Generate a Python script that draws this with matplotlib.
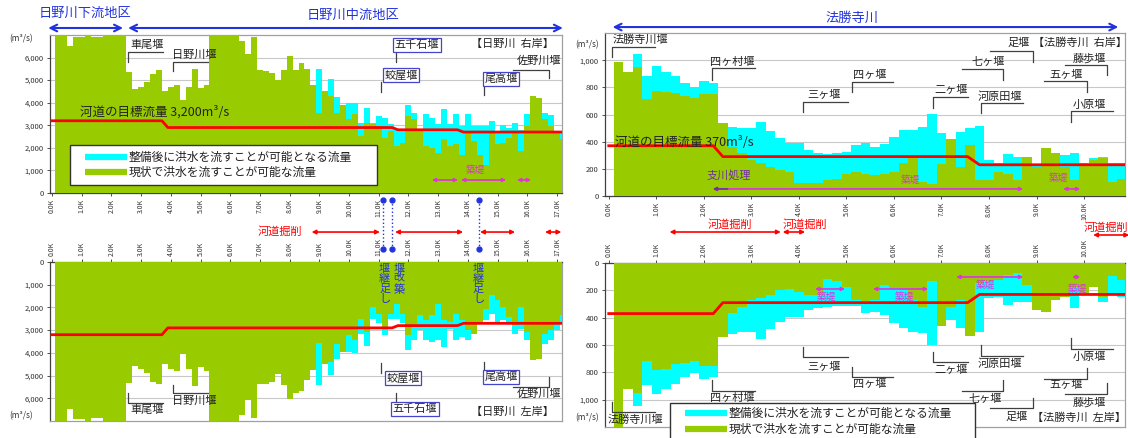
import numpy as np
import matplotlib.pyplot as plt
from matplotlib.patches import Rectangle

plt.rcParams['font.family'] = ['Noto Sans CJK JP', 'DejaVu Sans']

GREEN = '#99CC00'
CYAN = '#00FFFF'
RED = '#FF0000'
BLUE = '#2233DD'
PINK = '#E030E0'
GRID = '#C8C8C8'

# ---- 日野川 (0.2km pitch) ----
hino_km = np.round(np.arange(0.2, 17.21, 0.2), 1)

hino_right_now = [
    7000, 7000, 6500, 6930, 6930, 7000, 6900, 6900, 7000, 7000, 7000, 7000,
    5360, 4600, 4700, 4900, 5260, 5450, 4500, 4700, 4800, 4100, 4700, 5500,
    4650, 4800, 7000, 7000, 7000, 7000, 7000, 6750, 6150, 6900, 5450, 5400,
    5300, 5000, 5450, 6070, 5450, 5780, 5480, 4770, 3550, 4520, 4300, 3550,
    3880, 3260, 3480, 2520, 3100, 3040, 2960, 2440, 2740, 2070, 2220, 3400,
    3260, 2740, 2070, 2000, 1780, 2370, 2070, 2150, 1700, 2740, 2300, 1700,
    1260, 2670, 2150, 2220, 2440, 2740, 1850, 2960, 4300, 4220, 3260, 2960,
    2670, 2370]
hino_right_plan = [
    7000, 7000, 6500, 6930, 6930, 7000, 6900, 6900, 7000, 7000, 7000, 7000,
    5360, 4600, 4700, 4900, 5260, 5450, 4500, 4700, 4800, 4100, 4700, 5500,
    4650, 4800, 7000, 7000, 7000, 7000, 7000, 6750, 6150, 6900, 5450, 5400,
    5300, 5000, 5450, 6070, 5450, 5780, 5480, 4770, 5480, 4520, 5030, 4270,
    3880, 4000, 4000, 3100, 3780, 3100, 3400, 3330, 3040, 2810, 2810, 3880,
    3550, 2740, 3480, 3330, 3040, 3700, 3040, 3480, 2960, 3480, 2960, 2960,
    2960, 3190, 2670, 2990, 2890, 3100, 2810, 3480, 4300, 4220, 3550, 3440,
    2670, 2670]
hino_left_now = [
    7000, 7000, 6490, 6900, 6900, 7000, 6850, 6850, 7000, 7000, 7000, 7000,
    5310, 4580, 4730, 4900, 5270, 5370, 4470, 4690, 4790, 4060, 4700, 5460,
    4610, 4790, 7000, 7000, 7000, 7000, 7000, 6730, 6080, 6880, 5370, 5370,
    5270, 4930, 5420, 6050, 5750, 5700, 5200, 4760, 3560, 4470, 4400, 3590,
    3950, 3220, 3440, 2490, 3070, 2000, 2270, 2860, 2270, 1860, 2270, 3220,
    2860, 2340, 2560, 2340, 1830, 2560, 2640, 2270, 2560, 3000, 3150, 2640,
    2050, 1460, 1680, 1980, 2420, 2780, 1980, 3070, 4320, 4250, 3150, 3000,
    2710, 2340]
hino_left_plan = [
    7000, 7000, 6490, 6900, 6900, 7000, 6850, 6850, 7000, 7000, 7000, 7000,
    5310, 4580, 4730, 4900, 5270, 5370, 4470, 4690, 4790, 4060, 4700, 5460,
    4610, 4790, 7000, 7000, 7000, 7000, 7000, 6730, 6080, 6880, 5370, 5370,
    5270, 4930, 5420, 6050, 5750, 5700, 5200, 4760, 5420, 4470, 4980, 4250,
    3950, 3950, 4000, 3150, 3700, 2490, 2700, 3220, 2490, 2490, 2700, 3880,
    3440, 3000, 3440, 3510, 3440, 3730, 2930, 3440, 3290, 3440, 3150, 2700,
    2560, 2270, 2640, 2560, 2700, 3150, 2930, 3440, 4320, 4250, 3590, 3440,
    3000, 2640]
hino_target_km = [0.0, 3.7, 3.9, 11.45, 11.65, 13.65, 13.85, 17.3]
hino_target = [3200, 3200, 2900, 2900, 2800, 2800, 2700, 2700]

# ---- 法勝寺川 (0.2km pitch) ----
hosho_km = np.round(np.arange(0.2, 10.81, 0.2), 1)

hosho_right_now = [
    985, 911, 950, 716, 775, 768, 758, 733, 718, 753, 753, 536, 363, 314,
    264, 240, 215, 190, 178, 96, 96, 96, 116, 128, 165, 178, 165, 153, 165,
    178, 240, 277, 104, 91, 235, 417, 215, 375, 116, 116, 178, 165, 116, 289,
    215, 351, 314, 215, 116, 240, 264, 277, 104, 128]
hosho_right_plan = [
    985, 911, 1047, 881, 955, 916, 881, 832, 802, 844, 832, 536, 511, 499,
    499, 548, 481, 425, 388, 393, 338, 318, 309, 314, 326, 375, 393, 363, 383,
    437, 486, 486, 506, 602, 462, 417, 474, 499, 516, 264, 240, 309, 289, 289,
    227, 351, 314, 301, 319, 240, 277, 284, 240, 240]
hosho_left_now = [
    1200, 921, 953, 720, 781, 774, 737, 732, 720, 757, 757, 541, 369, 319,
    270, 258, 233, 197, 192, 209, 233, 233, 118, 135, 177, 270, 295, 270, 160,
    184, 197, 270, 319, 135, 462, 319, 270, 536, 147, 135, 123, 86, 74, 160,
    344, 356, 270, 250, 172, 221, 172, 246, 98, 123]
hosho_left_plan = [
    1200, 921, 1044, 889, 958, 921, 885, 835, 806, 848, 835, 541, 516, 504,
    504, 553, 486, 430, 393, 393, 344, 332, 319, 314, 314, 314, 369, 356, 381,
    442, 479, 504, 511, 602, 462, 418, 479, 536, 504, 258, 246, 307, 283, 283,
    344, 356, 270, 250, 332, 221, 172, 283, 221, 246]
hosho_target_km = [0.0, 2.2, 2.4, 7.55, 7.8, 10.9]
hosho_target = [370, 370, 290, 290, 230, 230]

LEGEND_PLAN = '整備後に洪水を流すことが可能となる流量'
LEGEND_NOW = '現状で洪水を流すことが可能な流量'


def edges(km):
    return np.append(km - 0.1, km[-1] + 0.1)


def draw_panel(ax, km, now, plan, tx, ty, ymax, step, xmax_k, xlim, top):
    e = edges(km)
    ax.stairs(plan, e, baseline=0, fill=True, color=CYAN, lw=0, zorder=2)
    ax.stairs(now, e, baseline=0, fill=True, color=GREEN, lw=0, zorder=3)
    ax.plot(tx, ty, color=RED, lw=2.0, zorder=4)
    ax.set_xlim(*xlim)
    ax.set_ylim(0, ymax)
    yt = np.arange(0, ymax, step)
    ax.set_yticks(yt)
    ax.set_yticklabels([f'{v:,}' for v in yt], fontsize=5.5)
    xt = np.arange(0, xmax_k + 1)
    ax.set_xticks(xt)
    ax.set_xticklabels([f'{k}.0K' for k in xt], rotation=90, fontsize=5)
    ax.grid(axis='y', color=GRID, lw=0.8)
    ax.set_axisbelow(True)
    ax.tick_params(length=2.5, width=0.6, pad=2, colors='#333333')
    for s in ax.spines.values():
        s.set_color('#A0A0A0')
        s.set_linewidth(0.9)
    ax.spines['left'].set_color('#404040')
    if top:
        ax.spines['bottom'].set_color('#404040')
    else:
        ax.invert_yaxis()
        ax.xaxis.tick_top()
        ax.spines['top'].set_color('#404040')


def weir(ax, label, tx, ty, lx, ly, boxed=False, ha='left'):
    ax.plot(lx, ly, color='#404040', lw=0.9, clip_on=False, zorder=5)
    kw = dict(fontsize=8, ha=ha, va='center', color='#222222', zorder=6, clip_on=False)
    if boxed:
        kw['bbox'] = dict(boxstyle='square,pad=0.15', fc='white', ec='#4444CC', lw=0.9)
    ax.text(tx, ty, label, **kw)


def arrow(ax, x0, x1, y, color, lw=1.2, scale=6, style='<|-|>'):
    ax.annotate('', xy=(x1, y), xytext=(x0, y), annotation_clip=False,
                arrowprops=dict(arrowstyle=style, color=color, lw=lw,
                                mutation_scale=scale, shrinkA=0, shrinkB=0))


def legend_box(ax, x0, x1, y0, y1, px0, px1, ya, yb, tx):
    ax.add_patch(Rectangle((x0, y0), x1 - x0, y1 - y0, transform=ax.transAxes,
                           fc='white', ec='#333333', lw=1.0, zorder=7, clip_on=False))
    for y, c, t in [(ya, CYAN, LEGEND_PLAN), (yb, GREEN, LEGEND_NOW)]:
        ax.plot([px0, px1], [y, y], color=c, lw=4.5, solid_capstyle='butt',
                transform=ax.transAxes, zorder=8, clip_on=False)
        ax.text(tx, y, t, transform=ax.transAxes, fontsize=8.5, va='center',
                ha='left', color='#222222', zorder=8, clip_on=False)


fig = plt.figure(figsize=(11.28, 4.38), dpi=100)
ax_tl = fig.add_axes([0.0443, 0.5594, 0.4539, 0.3607])
ax_bl = fig.add_axes([0.0443, 0.0388, 0.4539, 0.3630])
ax_tr = fig.add_axes([0.5363, 0.5525, 0.4610, 0.3721])
ax_br = fig.add_axes([0.5363, 0.0251, 0.4610, 0.3744])

draw_panel(ax_tl, hino_km, hino_right_now, hino_right_plan, hino_target_km, hino_target,
           7000, 1000, 17, (-0.07, 17.17), True)
draw_panel(ax_bl, hino_km, hino_left_now, hino_left_plan, hino_target_km, hino_target,
           7000, 1000, 17, (-0.07, 17.17), False)
draw_panel(ax_tr, hosho_km, hosho_right_now, hosho_right_plan, hosho_target_km, hosho_target,
           1200, 200, 10, (-0.08, 10.86), True)
draw_panel(ax_br, hosho_km, hosho_left_now, hosho_left_plan, hosho_target_km, hosho_target,
           1200, 200, 10, (-0.08, 10.86), False)

# units
for x, y in [(0.008, 0.905), (0.51, 0.893), (0.008, 0.045), (0.51, 0.04)]:
    fig.text(x, y, '(m³/s)', fontsize=6, color='#333333')

# ---- 日野川 右岸 ----
ax = ax_tl
ax.text(1.11, 7974, '日野川下流地区', color=BLUE, fontsize=9.5, ha='center', va='center', clip_on=False)
ax.text(10.13, 7885, '日野川中流地区', color=BLUE, fontsize=9.5, ha='center', va='center', clip_on=False)
arrow(ax, -0.13, 2.39, 7310, BLUE, lw=1.5, scale=12, style='<->')
arrow(ax, 2.56, 17.2, 7310, BLUE, lw=1.5, scale=12, style='<->')
weir(ax, '車尾堰', 2.63, 6556, [2.56, 2.56, 3.74], [5803, 6246, 6246])
weir(ax, '日野川堰', 4.04, 6113, [4.07, 4.07, 5.25], [5405, 5803, 5803])
weir(ax, '五千石堰', 12.29, 6556, [11.57, 11.57], [5803, 6202], boxed=True, ha='center')
weir(ax, '蛟屋堰', 11.75, 5227, [11.08, 11.08], [4474, 4917], boxed=True, ha='center')
weir(ax, '尾高堰', 15.12, 5050, [14.55, 14.55], [4341, 4740], boxed=True, ha='center')
weir(ax, '佐野川堰', 15.66, 5850, [15.52, 16.73, 16.73], [5449, 5449, 5094])
ax.text(15.49, 6600, '【日野川  右岸】', fontsize=8, ha='center', va='center', color='#222222')
ax.text(0.94, 3588, '河道の目標流量 3,200m³/s', fontsize=9, ha='left', va='center',
        color='#222222', zorder=6)
ax.text(14.24, 1019, '築堤', fontsize=7, color=PINK, ha='center', va='center', zorder=6)
for a, b in [(12.79, 13.67), (13.77, 15.29), (15.66, 16.13)]:
    arrow(ax, a, b, 576, PINK, lw=1.2, scale=5)
legend_box(ax, 0.039, 0.639, 0.051, 0.304, 0.068, 0.150, 0.228, 0.133, 0.154)

# ---- 日野川 左岸 ----
ax = ax_bl
weir(ax, '車尾堰', 2.63, 6516, [2.56, 2.56, 3.74], [5768, 6208, 6208])
weir(ax, '日野川堰', 4.04, 6120, [4.07, 4.07, 5.25], [5416, 5768, 5768])
weir(ax, '蛟屋堰', 11.82, 5107, [11.08, 11.08], [4447, 4887], boxed=True, ha='center')
weir(ax, '五千石堰', 12.22, 6472, [11.57, 11.57], [5768, 6164], boxed=True, ha='center')
weir(ax, '尾高堰', 15.12, 5063, [14.55, 14.55], [4403, 4755], boxed=True, ha='center')
weir(ax, '佐野川堰', 15.66, 5812, [16.73, 16.73, 15.52], [5063, 5504, 5504])
ax.text(15.49, 6604, '【日野川  左岸】', fontsize=8, ha='center', va='center', color='#222222')

# 河道掘削 / 堰改築 between the two 日野川 panels
ax.text(7.68, -1320, '河道掘削', color=RED, fontsize=8, ha='center', va='center', clip_on=False)
for a, b in [(8.74, 11.04), (11.55, 13.84), (14.41, 15.59), (16.6, 17.15)]:
    arrow(ax, a, b, -1320, RED, lw=1.2, scale=6)
for x in [11.13, 11.44, 14.38]:
    ax.plot([x, x], [-2730, -572], ':', color=BLUE, lw=1.0, clip_on=False, zorder=6)
    ax.plot([x, x], [-2730, -572], 'o', color=BLUE, ms=3.5, clip_on=False, zorder=6)
for x, t in [(11.2, '堰継足し'), (11.68, '堰改築'), (14.36, '堰継足し')]:
    ax.text(x, 80, '\n'.join(t), color=BLUE, fontsize=8, ha='center', va='top',
            linespacing=1.0, zorder=6)

# ---- 法勝寺川 右岸 ----
ax = ax_tr
ax.text(5.12, 1310, '法勝寺川', color=BLUE, fontsize=9.5, ha='center', va='center', clip_on=False)
arrow(ax, 0.08, 10.72, 1244, BLUE, lw=1.5, scale=12, style='<->')
weir(ax, '法勝寺川堰', 0.08, 1148, [0.06, 0.06, 0.97], [1023, 1097, 1097])
weir(ax, '四ヶ村堰', 2.13, 986, [2.18, 2.18, 3.07], [854, 942, 942])
weir(ax, '三ヶ堰', 4.17, 743, [4.08, 4.08, 5.03], [618, 692, 692])
weir(ax, '四ヶ堰', 5.14, 890, [5.12, 5.12, 5.98], [765, 839, 839])
weir(ax, '二ヶ堰', 6.86, 780, [6.82, 6.82, 7.56], [648, 729, 729])
weir(ax, '河原田堰', 7.77, 729, [7.83, 7.83, 8.72], [611, 684, 684])
weir(ax, '七ヶ堰', 7.64, 986, [7.43, 8.29, 8.29], [935, 935, 854])
weir(ax, '足堰', 8.38, 1126, [8.02, 8.93, 8.93], [1067, 1067, 986])
weir(ax, '藤歩堰', 9.75, 1016, [9.6, 10.48, 10.48], [964, 964, 890])
weir(ax, '五ヶ堰', 9.28, 890, [9.16, 10.06, 10.06], [846, 846, 765])
weir(ax, '小原堰', 9.77, 670, [9.73, 9.73, 10.61], [545, 626, 626])
ax.text(8.93, 1126, '【法勝寺川  右岸】', fontsize=8, ha='left', va='center', color='#222222')
ax.text(0.13, 397, '河道の目標流量 370m³/s', fontsize=9, ha='left', va='center',
        color='#222222', zorder=6)
ax.text(2.06, 155, '支川処理', fontsize=8, color='#7030A0', ha='left', va='center', zorder=6)
arrow(ax, 2.19, 8.72, 52, PINK, lw=1.2, scale=5)
arrow(ax, 2.19, 2.5, 52, '#7030A0', lw=1.2, scale=5, style='<|-')
ax.text(6.34, 118, '築堤', fontsize=7, color=PINK, ha='center', va='center', zorder=6)
ax.text(9.47, 132, '築堤', fontsize=7, color=PINK, ha='center', va='center', zorder=6)
arrow(ax, 9.56, 9.92, 52, PINK, lw=1.2, scale=5)

# ---- 法勝寺川 左岸 ----
ax = ax_br
for tx, ty, a, b, ay in [(4.59, 249, 4.34, 4.97, 190), (6.23, 249, 5.56, 6.72, 190),
                         (7.92, 161, 7.31, 8.72, 102), (9.87, 190, 9.75, 9.92, 102)]:
    ax.text(tx, ty, '築堤', fontsize=7, color=PINK, ha='center', va='center', zorder=6)
    arrow(ax, a, b, ay, PINK, lw=1.2, scale=5)
weir(ax, '三ヶ堰', 4.17, 761, [4.08, 4.08, 5.03], [615, 688, 688])
weir(ax, '四ヶ村堰', 2.13, 988, [2.18, 2.18, 3.07], [856, 937, 937])
weir(ax, '法勝寺川堰', -0.02, 1149, [0.06, 0.06, 0.97], [1017, 1091, 1091])
weir(ax, '四ヶ堰', 5.14, 886, [5.12, 5.12, 5.98], [761, 834, 834])
weir(ax, '二ヶ堰', 6.86, 783, [6.82, 6.82, 7.56], [651, 725, 725])
weir(ax, '河原田堰', 7.77, 739, [7.83, 7.83, 8.72], [600, 681, 681])
weir(ax, '小原堰', 9.77, 688, [9.73, 9.73, 10.61], [549, 630, 630])
weir(ax, '五ヶ堰', 9.28, 893, [10.06, 10.06, 9.16], [769, 849, 849])
weir(ax, '七ヶ堰', 7.56, 996, [8.29, 8.29, 7.43], [856, 937, 937])
weir(ax, '藤歩堰', 9.75, 1017, [10.48, 10.48, 9.6], [878, 959, 959])
weir(ax, '足堰', 8.34, 1127, [8.93, 8.93, 8.02], [988, 1061, 1061])
ax.text(8.91, 1135, '【法勝寺川  左岸】', fontsize=8, ha='left', va='center', color='#222222')
ax.text(2.55, -285, '河道掘削', color=RED, fontsize=8, ha='center', va='center', clip_on=False)
ax.text(4.13, -285, '河道掘削', color=RED, fontsize=8, ha='center', va='center', clip_on=False)
ax.text(10.0, -262, '河道掘削', color=RED, fontsize=8, ha='left', va='center', clip_on=False)
arrow(ax, 1.28, 3.62, -227, RED, lw=1.2, scale=6)
arrow(ax, 3.66, 4.13, -227, RED, lw=1.2, scale=6)
arrow(ax, 10.19, 10.95, -205, RED, lw=1.2, scale=6)
legend_box(ax, 0.125, 0.712, -0.2, 0.146, 0.154, 0.235, 0.085, -0.012, 0.238)

fig.savefig('out.png', dpi=100)
